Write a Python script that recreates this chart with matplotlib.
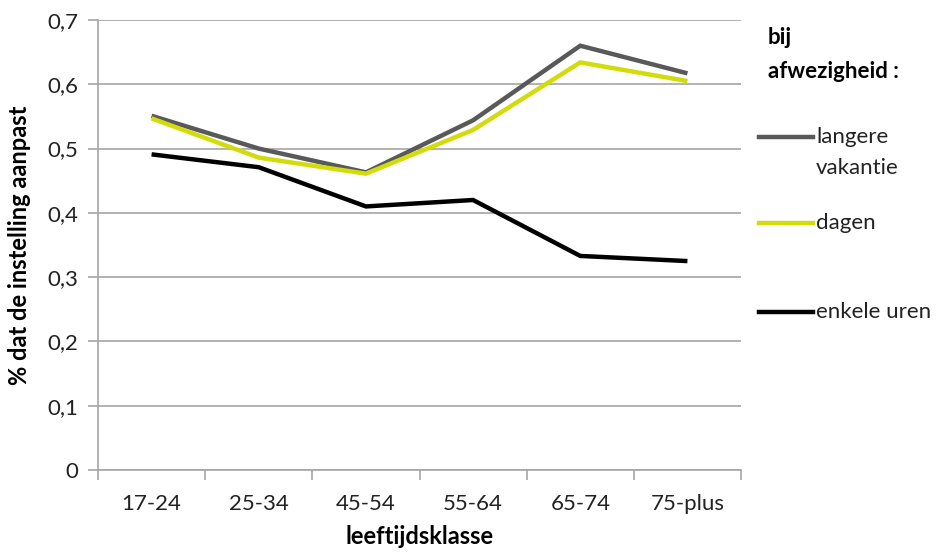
import matplotlib.pyplot as plt
from matplotlib.lines import Line2D
import numpy as np

# data
leeftijd = ['17-24', '25-34', '45-54', '55-64', '65-74', '75-plus']
langere_vakantie = [0.551, 0.500, 0.463, 0.544, 0.660, 0.617]
dagen = [0.547, 0.486, 0.461, 0.529, 0.634, 0.605]
enkele_uren = [0.491, 0.471, 0.410, 0.420, 0.333, 0.325]
series_labels = [['langere', 'vakantie'], ['dagen'], ['enkele uren']]
series_colors = ['#595959', '#d2dc0a', '#000000']

plt.rcParams['font.family'] = ['Lato', 'DejaVu Sans']

fig = plt.figure(figsize=(9.36, 5.54), dpi=100)
ax = fig.add_axes([0.1047, 0.1516, 0.6870, 0.8123])

x = np.arange(len(leeftijd))
for vals, col in zip([langere_vakantie, dagen, enkele_uren], series_colors):
    ax.plot(x, vals, color=col, lw=3.2, solid_joinstyle='miter', solid_capstyle='butt', zorder=3)

ax.set_xlim(-0.5, len(leeftijd) - 0.5)
ax.set_ylim(0, 0.7)
ax.set_yticks(np.arange(0, 0.71, 0.1))
ax.set_yticklabels(['0'] + [f'0,{i}' for i in range(1, 8)])
ax.set_xticks(x)
ax.set_xticklabels(leeftijd)
ax.set_xticks(np.arange(-0.5, len(leeftijd)), minor=True)

grid_col = '#a6a6a6'
ax.grid(axis='y', color=grid_col, lw=1.2, zorder=0)
for s in ['top', 'right']:
    ax.spines[s].set_visible(False)
for s in ['left', 'bottom']:
    ax.spines[s].set_color(grid_col)
    ax.spines[s].set_linewidth(1.2)

txt_col = '#222222'
ax.tick_params(axis='y', length=7, width=1.2, color=grid_col, labelsize=16, pad=7, labelcolor=txt_col)
ax.tick_params(axis='x', which='major', length=0, labelsize=16, pad=17, labelcolor=txt_col)
ax.tick_params(axis='x', which='minor', length=7, width=1.2, color=grid_col)

ax.set_ylabel('% dat de instelling aanpast', fontsize=17, fontweight='bold', labelpad=12)
ax.set_xlabel('leeftijdsklasse', fontsize=17, fontweight='bold', labelpad=8)

# manual legend on the right
fig.text(768 / 936, 1 - 38 / 554, 'bij', fontsize=16, fontweight='bold', va='center')
fig.text(768 / 936, 1 - 72 / 554, 'afwezigheid :', fontsize=16, fontweight='bold', va='center')
leg_y = [137, 223, 312]
for lines, col, yy in zip(series_labels, series_colors, leg_y):
    yf = 1 - yy / 554
    fig.add_artist(Line2D([759 / 936, 813 / 936], [yf, yf], color=col, lw=3.2,
                          transform=fig.transFigure))
    for k, t in enumerate(lines):
        fig.text(816 / 936, 1 - (yy + 31 * k) / 554, t, fontsize=16, va='center', color=txt_col)

fig.savefig('out.png', dpi=100)
plt.close(fig)
